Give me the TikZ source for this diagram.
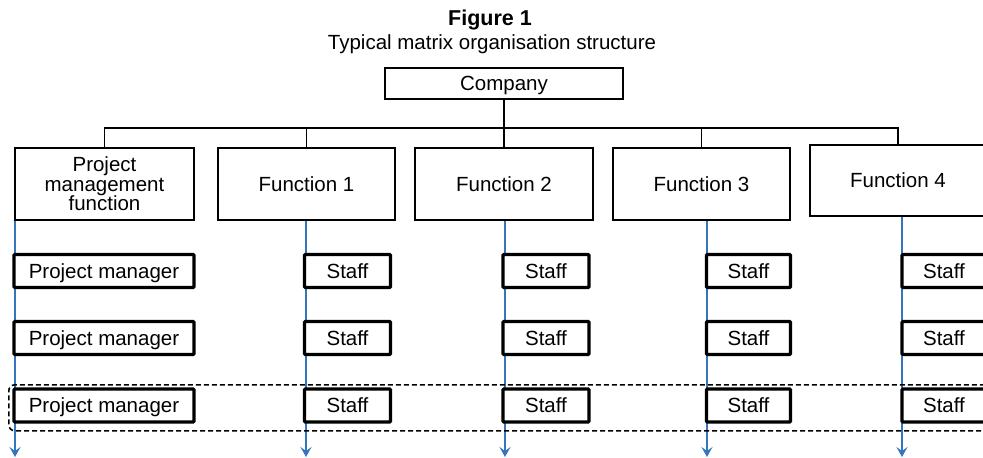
\documentclass[tikz,border=0pt]{standalone}
\usepackage{fontspec}
\setmainfont{Liberation Sans}
\usetikzlibrary{arrows.meta}
\definecolor{flowblue}{RGB}{52,118,190}
\begin{document}
\begin{tikzpicture}[x=1pt,y=-1pt,
  every node/.style={font=\fontsize{20.5}{19.5}\selectfont, inner sep=0pt},
  oneline/.style={text height=14.6pt, text depth=0pt},
  unitbox/.style={draw=black, line width=1.7pt, fill=white, align=center},
  rolebox/.style={draw=black, line width=3.2pt, fill=white, rounded corners=1pt,
                  minimum height=33pt, oneline},
  link/.style={draw=black, line width=1.9pt},
  flow/.style={draw=flowblue, line width=1.9pt,
               -{Stealth[length=10pt,width=11pt,inset=4pt]}},
  group/.style={draw=black, line width=1.6pt, dash pattern=on 5pt off 3pt,
                rounded corners=6pt}]

\clip (0,0) rectangle (983,458);

% heading
\node[font=\bfseries\fontsize{21.5}{21}\selectfont] (fig) at (490,20) {Figure 1};
\node (cap) at (492,44) {Typical matrix organisation structure};

% top of the hierarchy
\node[unitbox, oneline, minimum width=238pt, minimum height=31pt] (company) at (504,83.5) {Company};

% departments
\node[unitbox, minimum width=179pt, minimum height=72pt] (pmf) at (104.5,184)
  {Project\\management\\function};
\node[unitbox, oneline, minimum width=177pt, minimum height=72pt] (f1) at (306.5,184) {Function 1};
\node[unitbox, oneline, minimum width=178pt, minimum height=72pt] (f2) at (504,184) {Function 2};
\node[unitbox, oneline, minimum width=177pt, minimum height=72pt] (f3) at (701.5,184) {Function 3};
\node[unitbox, oneline, minimum width=176pt, minimum height=71pt] (f4) at (898,180.5) {Function 4};

% reporting lines
\coordinate (bus) at (0,128);
\draw[link] (company.south) -- (f2.north);
\draw[link] (pmf.north) -- (pmf.north |- bus) -- (f4.north |- bus) -- (f4.north);
\draw[link] (f1.north) -- (f1.north |- bus);
\draw[link] (f3.north) -- (f3.north |- bus);

% downward flows
\coordinate (end0) at (15,457);
\coordinate (end1) at (306,457);
\coordinate (end2) at (505,457);
\coordinate (end3) at (707,457);
\coordinate (end4) at (902,457);
\draw[flow] (pmf.south -| end0) -- (end0);
\draw[flow] (f1.south -| end1) -- (end1);
\draw[flow] (f2.south -| end2) -- (end2);
\draw[flow] (f3.south -| end3) -- (end3);
\draw[flow] (f4.south -| end4) -- (end4);

% project team highlighted
\node[group, minimum width=990pt, minimum height=46pt, anchor=north west] (team) at (8,384) {};

% project managers
\foreach \r/\y in {1/271,2/338,3/405.5}{
  \node[rolebox, minimum width=180pt] (pm\r) at (104,\y) {Project manager};
}

% staff in each function
\foreach \r/\y in {1/271,2/338,3/405.5}{
  \node[rolebox, minimum width=86pt] (sa\r) at (347.5,\y) {Staff};
  \node[rolebox, minimum width=86pt] (sb\r) at (546,\y) {Staff};
  \node[rolebox, minimum width=84pt] (sc\r) at (748.5,\y) {Staff};
  \node[rolebox, minimum width=84pt] (sd\r) at (944,\y) {Staff};
}
\end{tikzpicture}
\end{document}
